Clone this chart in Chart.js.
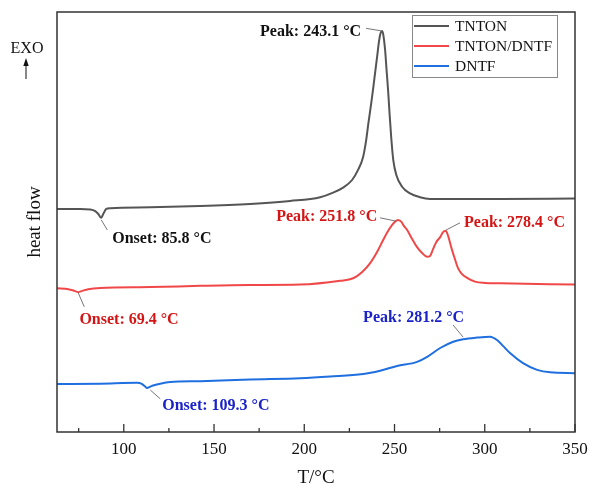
<!DOCTYPE html>
<html><head><meta charset="utf-8">
<script src="https://cdn.jsdelivr.net/npm/chart.js@4/dist/chart.umd.min.js"></script>
<style>html,body{margin:0;padding:0;background:#fff}</style>
</head><body>
<canvas id="c" width="590" height="487"></canvas>
<script>
// ---- data ----
const seriesNames = ['TNTON', 'TNTON/DNTF', 'DNTF'];
const tntonT = [63, 75.9, 81.5, 84.2, 85.9, 87.5, 88.6, 90.3, 92.6, 114.7, 142.4, 170.0, 192.2, 208.8, 216.0, 221.5, 226.5, 229.8, 232.6, 234.3, 235.4, 237.1, 238.2, 239.3, 240.4, 241.5, 242.3, 243.1, 243.7, 244.2, 244.8, 245.6, 246.5, 247.3, 248.2, 249.3, 251.0, 254.2, 258.6, 264.1, 269.7, 280.8, 308.5, 350];
const tntonV = [53.1, 53.1, 53.0, 52.6, 51.9, 51.0, 51.9, 53.1, 53.3, 53.5, 53.8, 54.3, 55.0, 55.9, 57.0, 58.2, 60.0, 62.4, 65.5, 69.5, 73.1, 78.3, 81.9, 85.7, 89.5, 93.3, 95.0, 95.5, 94.8, 93.3, 90.9, 86.2, 81.0, 75.5, 70.0, 64.8, 61.2, 58.4, 56.8, 55.9, 55.5, 55.5, 55.5, 55.6];
const mixT = [63, 69.3, 72.0, 74.8, 77.0, 80.3, 87.0, 114.7, 142.4, 170.0, 197.7, 219.9, 227.1, 232.1, 236.5, 240.4, 243.7, 246.5, 248.7, 250.4, 251.8, 253.7, 255.3, 257.0, 259.7, 262.5, 265.3, 268.1, 269.7, 271.4, 273.1, 275.3, 276.9, 278.4, 279.7, 280.8, 281.9, 283.6, 285.2, 287.4, 290.2, 294.6, 300.2, 308.5, 350];
const mixV = [34.2, 34.0, 33.7, 33.3, 33.6, 34.0, 34.3, 34.5, 34.8, 35.0, 35.1, 36.0, 36.6, 38.1, 40.2, 42.9, 45.7, 47.9, 49.3, 50.1, 50.5, 50.1, 49.0, 48.1, 46.0, 44.0, 42.6, 41.7, 41.9, 43.6, 45.2, 46.4, 47.6, 47.9, 46.7, 45.0, 43.3, 41.0, 39.0, 37.6, 36.7, 35.8, 35.5, 35.4, 35.1];
const dntfT = [63, 87.0, 107.5, 109.7, 111.4, 113.0, 115.8, 120.2, 125.7, 142.4, 170.0, 197.7, 214.3, 232.6, 242.0, 251.4, 262.5, 268.1, 275.3, 282.5, 288.0, 295.8, 303.0, 306.8, 310.1, 314.0, 321.2, 329.0, 336.2, 350];
const dntfV = [11.4, 11.5, 11.7, 11.5, 11.0, 10.5, 11.0, 11.5, 11.9, 12.1, 12.5, 12.8, 13.2, 13.8, 14.6, 15.7, 16.7, 17.9, 20.0, 21.5, 22.1, 22.5, 22.7, 21.9, 20.5, 18.8, 16.4, 14.8, 14.2, 14.0];
const xMajorTicks = [100, 150, 200, 250, 300, 350];
const xMinorTicks = [75, 125, 175, 225, 275, 325];
const annoTexts = ['Peak: 243.1 °C', 'Onset: 85.8 °C', 'Peak: 251.8 °C', 'Peak: 278.4 °C', 'Onset: 69.4 °C', 'Onset: 109.3 °C', 'Peak: 281.2 °C'];

// ---- styling / layout ----
const FONT = '"Liberation Serif", "Times New Roman", serif';
const lineColors = ['#555555', '#f04848', '#1f6fe0'];
const textColors = ['#111111', '#d41515', '#1a22c8'];
// annotation placement: [text index, series, textX, textY, align, leader x1,y1,x2,y2] in data coords
const annoPlace = [
  [0, 0, 231.5, 95.2, 'right', 234.3, 96.1, 242.8, 95.5],
  [1, 0, 93.6, 46.0, 'left', 87.5, 50.5, 90.9, 48.1],
  [2, 1, 240.4, 51.2, 'right', 242.0, 51.0, 250.9, 50.2],
  [3, 1, 288.5, 49.8, 'left', 278.6, 48.1, 286.3, 49.8],
  [4, 1, 75.4, 26.7, 'left', 74.8, 33.1, 78.1, 29.8],
  [5, 2, 121.3, 6.3, 'left', 114.7, 10.0, 120.2, 7.9],
  [6, 2, 232.6, 27.1, 'left', 282.4, 25.5, 288.0, 22.6]
];

function pts(T, V) { return T.map((t, i) => ({x: t, y: V[i]})); }

const decor = {
  id: 'decor',
  afterDraw(chart) {
    const {ctx, chartArea: a, scales: {x, y}} = chart;
    ctx.save();
    // frame
    ctx.strokeStyle = '#333';
    ctx.lineWidth = 1.5;
    ctx.strokeRect(a.left, a.top, a.right - a.left, a.bottom - a.top);
    // inward ticks
    ctx.lineWidth = 1.3;
    ctx.beginPath();
    xMajorTicks.forEach(v => { const p = x.getPixelForValue(v); ctx.moveTo(p, a.bottom); ctx.lineTo(p, a.bottom - 8); });
    xMinorTicks.forEach(v => { const p = x.getPixelForValue(v); ctx.moveTo(p, a.bottom); ctx.lineTo(p, a.bottom - 4); });
    ctx.stroke();
    // annotations
    annoPlace.forEach(([ti, s, tx, ty, al, x1, y1, x2, y2]) => {
      ctx.strokeStyle = '#666';
      ctx.lineWidth = 0.9;
      ctx.beginPath();
      ctx.moveTo(x.getPixelForValue(x1), y.getPixelForValue(y1));
      ctx.lineTo(x.getPixelForValue(x2), y.getPixelForValue(y2));
      ctx.stroke();
      ctx.fillStyle = textColors[s];
      ctx.font = 'bold 16px ' + FONT;
      ctx.textAlign = al;
      ctx.textBaseline = 'middle';
      ctx.fillText(annoTexts[ti], x.getPixelForValue(tx), y.getPixelForValue(ty));
    });
    // legend
    const lx = 412, ly = 15, lw = 145, lh = 62;
    ctx.fillStyle = '#fff';
    ctx.fillRect(lx, ly, lw, lh);
    ctx.strokeStyle = '#888';
    ctx.lineWidth = 1;
    ctx.strokeRect(lx + 0.5, ly + 0.5, lw, lh);
    chart.data.datasets.forEach((ds, i) => {
      const yy = ly + 11 + i * 20;
      ctx.strokeStyle = ds.borderColor;
      ctx.lineWidth = 2;
      ctx.beginPath(); ctx.moveTo(lx + 2, yy); ctx.lineTo(lx + 37, yy); ctx.stroke();
      ctx.fillStyle = '#111';
      ctx.font = '15.5px ' + FONT;
      ctx.textAlign = 'left';
      ctx.textBaseline = 'middle';
      ctx.fillText(ds.label, lx + 43, yy + 1);
    });
    // EXO arrow
    ctx.fillStyle = '#111';
    ctx.font = '16px ' + FONT;
    ctx.textAlign = 'center';
    ctx.textBaseline = 'middle';
    ctx.fillText('EXO', 27, 48.5);
    ctx.strokeStyle = '#111';
    ctx.lineWidth = 1;
    ctx.beginPath(); ctx.moveTo(26, 79); ctx.lineTo(26, 64); ctx.stroke();
    ctx.beginPath(); ctx.moveTo(26, 58); ctx.lineTo(23.3, 66); ctx.lineTo(28.7, 66); ctx.closePath(); ctx.fill();
    ctx.restore();
  }
};

new Chart(document.getElementById('c'), {
  type: 'line',
  data: {
    datasets: [
      {label: seriesNames[0], data: pts(tntonT, tntonV), borderColor: lineColors[0]},
      {label: seriesNames[1], data: pts(mixT, mixV), borderColor: lineColors[1]},
      {label: seriesNames[2], data: pts(dntfT, dntfV), borderColor: lineColors[2]}
    ].map(d => Object.assign(d, {borderWidth: 2, pointRadius: 0, fill: false, cubicInterpolationMode: 'monotone'}))
  },
  options: {
    responsive: false,
    animation: false,
    devicePixelRatio: 1,
    layout: {padding: {top: 12, right: 15, left: 0, bottom: 0}},
    plugins: {legend: {display: false}, tooltip: {enabled: false}},
    scales: {
      x: {
        type: 'linear', min: 63, max: 350,
        afterBuildTicks: s => { s.ticks = xMajorTicks.map(v => ({value: v})); },
        afterFit: s => { s.height = 55; s.paddingLeft = 0; s.paddingRight = 0; },
        grid: {display: false, drawTicks: false},
        border: {display: false},
        ticks: {color: '#111', font: {family: FONT, size: 17, lineHeight: 1}, padding: 9.5, maxRotation: 0, autoSkip: false},
        title: {display: true, text: 'T/°C', color: '#111', font: {family: FONT, size: 19, lineHeight: 1}, padding: {top: 0, bottom: -1}}
      },
      y: {
        type: 'linear', min: 0, max: 100,
        afterFit: s => { s.width = 57; s.paddingTop = 0; s.paddingBottom = 0; },
        grid: {display: false, drawTicks: false},
        border: {display: false},
        ticks: {display: false},
        title: {display: true, text: 'heat flow', color: '#111', font: {family: FONT, size: 19, lineHeight: 1}, padding: {top: 25.5, bottom: 0}}
      }
    }
  },
  plugins: [decor]
});
</script>
</body></html>
